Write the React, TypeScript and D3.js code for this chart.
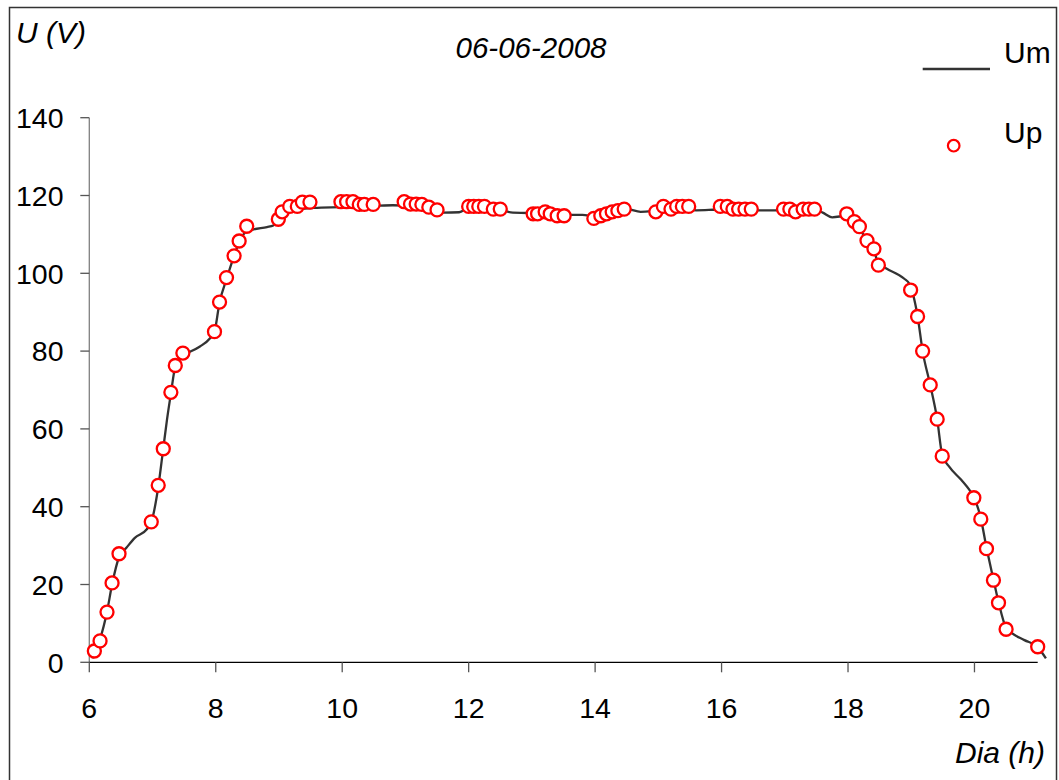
import React from "react";
import * as d3 from "d3";

const upHours = [6.08,6.17,6.28,6.36,6.47,6.98,7.09,7.17,7.29,7.36,7.48,7.98,8.06,8.17,8.29,8.37,8.49,8.99,9.05,9.17,9.29,9.37,9.49,9.98,10.07,10.17,10.27,10.35,10.49,10.98,11.08,11.17,11.26,11.37,11.5,12.0,12.08,12.16,12.25,12.39,12.5,13.02,13.09,13.21,13.29,13.4,13.51,13.98,14.09,14.18,14.27,14.36,14.46,14.96,15.08,15.2,15.29,15.38,15.48,15.98,16.09,16.18,16.27,16.37,16.47,16.98,17.08,17.17,17.29,17.38,17.47,17.98,18.1,18.18,18.3,18.41,18.48,18.99,19.1,19.18,19.3,19.41,19.49,19.99,20.1,20.19,20.3,20.38,20.5,21.0];
const upValues = [2.9,5.5,12.9,20.4,27.9,36.1,45.5,54.9,69.4,76.3,79.5,85.0,92.6,98.9,104.5,108.3,112.1,113.9,115.8,117.2,117.2,118.3,118.3,118.4,118.4,118.4,117.7,117.7,117.7,118.4,117.8,117.8,117.7,117.0,116.3,117.2,117.2,117.2,117.2,116.5,116.5,115.3,115.3,115.8,115.3,114.8,114.8,114.1,114.8,115.3,115.8,116.1,116.5,115.8,117.2,116.5,117.2,117.2,117.2,117.2,117.2,116.5,116.5,116.5,116.5,116.5,116.5,115.8,116.5,116.5,116.5,115.3,113.3,112.0,108.4,106.3,102.1,95.7,88.9,80.0,71.3,62.5,53.0,42.3,36.8,29.2,21.1,15.3,8.5,4.0];

const umHours = [6.05,6.08,6.17,6.28,6.36,6.47,6.59,6.72,6.91,6.98,7.09,7.17,7.23,7.29,7.36,7.48,7.59,7.75,7.91,7.98,8.06,8.17,8.29,8.37,8.49,8.6,8.81,8.91,8.99,9.12,9.33,9.55,10.0,10.5,10.8,11.0,11.4,11.6,11.85,12.0,12.3,12.5,12.7,12.95,13.2,13.5,13.8,14.0,14.3,14.5,14.72,15.0,15.3,15.6,16.0,16.5,17.0,17.5,17.6,17.75,17.98,18.1,18.18,18.3,18.41,18.48,18.6,18.89,18.97,19.1,19.18,19.3,19.41,19.49,19.6,19.79,19.92,19.99,20.1,20.19,20.3,20.38,20.5,20.58,20.79,21.0,21.13];
const umValues = [1.0,2.5,6.0,13.0,20.0,27.0,29.5,32.0,34.2,36.0,45.0,55.0,62.5,69.0,76.0,79.0,79.8,81.2,83.3,85.0,92.5,98.5,104.5,108.0,110.8,111.3,111.9,112.3,113.5,115.4,116.5,116.8,117.0,117.3,117.5,117.4,116.5,115.6,115.7,116.8,117.0,116.3,115.6,115.5,115.6,115.0,115.0,114.6,115.6,116.5,115.8,116.2,116.6,116.2,116.4,116.2,116.2,116.2,115.6,114.4,114.8,113.0,111.5,108.4,105.8,102.6,101.3,98.6,97.3,89.0,80.0,71.3,62.5,53.3,50.3,46.9,44.3,42.5,37.0,29.5,21.3,15.5,8.8,7.6,5.7,3.9,1.0];

const xTicks = [6, 8, 10, 12, 14, 16, 18, 20];
const yTicks = [0, 20, 40, 60, 80, 100, 120, 140];

const FONT = "'Liberation Sans', Arial, sans-serif";

export default function App() {
  const W = 1059, H = 780;
  const x = d3.scaleLinear().domain([6, 21]).range([89.3, 1037.7]);
  const y = d3.scaleLinear().domain([0, 140]).range([662.3, 117.7]);
  const line = d3
    .line<number>()
    .x((_, i) => x(umHours[i]))
    .y((d) => y(d))
    .curve(d3.curveMonotoneX);
  const path = line(umValues) || "";

  return (
    <svg
      width={W}
      height={H}
      style={{ position: "absolute", left: 0, top: 0, background: "#fff" }}
      fontFamily={FONT}
    >
      <rect x={0} y={0} width={W} height={H} fill="#fff" />
      <rect x={9.5} y={7.5} width={1047} height={790} fill="none" stroke="#333" strokeWidth={1.5} />

      {/* y axis */}
      <line x1={x(6)} x2={x(6)} y1={y(0)} y2={y(140)} stroke="#808080" strokeWidth={1.3} />
      {yTicks.map((t) => (
        <g key={"y" + t}>
          <line x1={x(6) - 9} x2={x(6)} y1={y(t)} y2={y(t)} stroke="#555" strokeWidth={1.3} />
          <text x={63.5} y={y(t)} dy="0.36em" textAnchor="end" fontSize={28.5} fill="#000">
            {t}
          </text>
        </g>
      ))}
      {/* x axis */}
      <line x1={x(6)} x2={x(21)} y1={y(0)} y2={y(0)} stroke="#000" strokeWidth={1.3} />
      {xTicks.map((t) => (
        <g key={"x" + t}>
          <line x1={x(t)} x2={x(t)} y1={y(0)} y2={y(0) + 10} stroke="#555" strokeWidth={1.3} />
          <text x={x(t)} y={718} textAnchor="middle" fontSize={28.5} fill="#000">
            {t}
          </text>
        </g>
      ))}

      {/* Um line */}
      <path d={path} fill="none" stroke="#333" strokeWidth={2.3} />

      {/* Up markers */}
      {upValues.map((v, i) => (
        <circle
          key={"p" + i}
          cx={x(upHours[i])}
          cy={y(v)}
          r={6.5}
          fill="#fff"
          stroke="#ff0000"
          strokeWidth={2.3}
        />
      ))}

      {/* titles */}
      <text x={16} y={43} fontSize={30} fontStyle="italic" fill="#000">U (V)</text>
      <text x={531} y={58} fontSize={29.5} fontStyle="italic" textAnchor="middle" fill="#000">06-06-2008</text>
      <text x={1045} y={763} fontSize={30} fontStyle="italic" textAnchor="end" fill="#000">Dia (h)</text>

      {/* legend */}
      <line x1={922.7} x2={990} y1={69} y2={69} stroke="#333" strokeWidth={2.3} />
      <text x={1004} y={63} fontSize={30} fill="#000">Um</text>
      <circle cx={953.7} cy={145.7} r={5.8} fill="#fff" stroke="#ff0000" strokeWidth={2.2} />
      <text x={1004} y={143} fontSize={30} fill="#000">Up</text>
    </svg>
  );
}
